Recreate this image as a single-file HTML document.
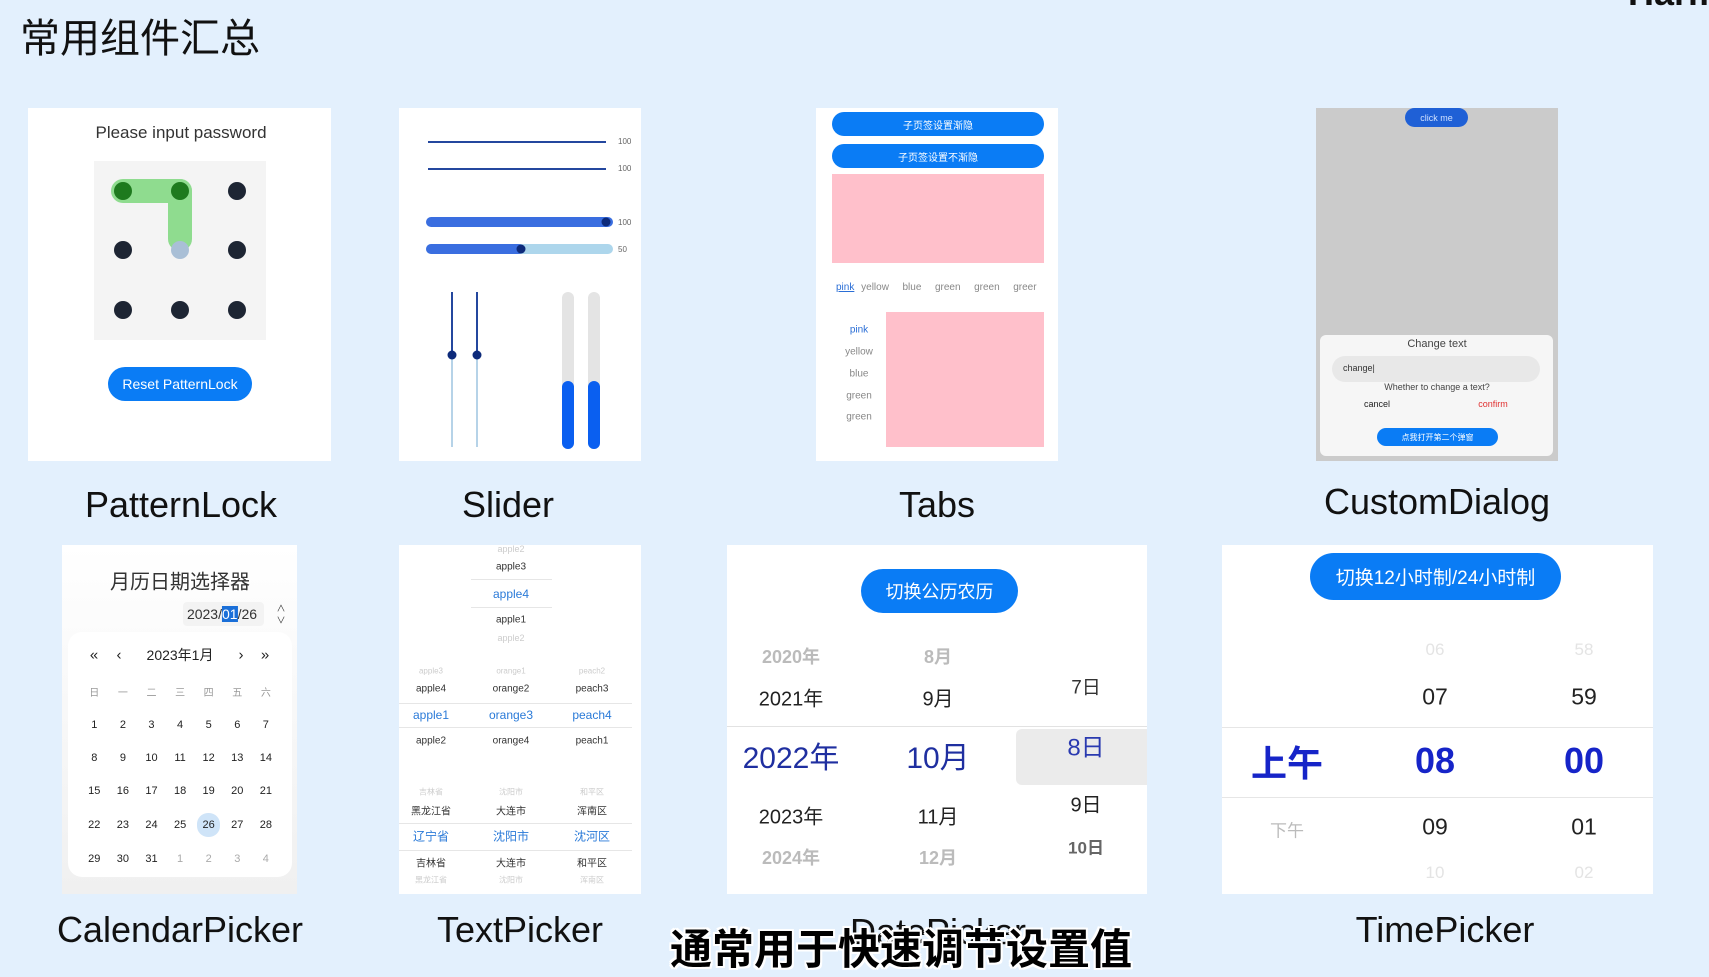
<!DOCTYPE html>
<html><head><meta charset="utf-8"><style>
*{margin:0;padding:0;box-sizing:border-box}
body{width:1709px;height:966px;background:#e3f0fd;position:relative;overflow:hidden;font-family:"Liberation Sans","Noto Sans CJK SC",sans-serif;color:#222}
.a{position:absolute}
.c{position:absolute;transform:translate(-50%,-50%);white-space:nowrap}
.p{position:absolute;background:#fff}
.lbl{position:absolute;transform:translate(-50%,-50%);font-size:36px;color:#111;white-space:nowrap}
.dot{position:absolute;width:18px;height:18px;border-radius:50%;background:#1d2533;transform:translate(-50%,-50%)}
.btn{position:absolute;background:#0a7cf5;color:#fff;border-radius:30px;display:flex;align-items:center;justify-content:center;white-space:nowrap}
.hl{position:absolute;height:1px;background:#e6e6e6}
.cal{position:absolute;left:80px;width:200px;display:grid;grid-template-columns:repeat(7,28.6px);font-size:11px;color:#222}
.cal span{display:flex;align-items:center;justify-content:center;height:24px}
</style></head><body>
<div class="a" style="left:20px;top:6px;font-size:40px;color:#111">常用组件汇总</div>
<div class="a" style="left:1628px;top:-28px;font-size:36px;font-weight:bold;color:#111">Harm</div>

<!-- PatternLock -->
<div class="p" style="left:28px;top:108px;width:303px;height:353px"></div>
<div class="c" style="left:181px;top:133px;font-size:17px;color:#333">Please input password</div>
<div class="a" style="left:94px;top:161px;width:172px;height:179px;background:#f4f4f4"></div>
<div class="a" style="left:111px;top:179px;width:81px;height:24px;background:#8fdc8f;border-radius:12px"></div>
<div class="a" style="left:168px;top:179px;width:24px;height:72px;background:#8fdc8f;border-radius:12px"></div>
<div class="dot" style="left:123px;top:191px;background:#1e7a1e"></div>
<div class="dot" style="left:180px;top:191px;background:#1e7a1e"></div>
<div class="dot" style="left:237px;top:191px"></div>
<div class="dot" style="left:123px;top:250px"></div>
<div class="dot" style="left:180px;top:250px;background:#a9bfd6"></div>
<div class="dot" style="left:237px;top:250px"></div>
<div class="dot" style="left:123px;top:310px"></div>
<div class="dot" style="left:180px;top:310px"></div>
<div class="dot" style="left:237px;top:310px"></div>
<div class="btn" style="left:108px;top:367px;width:144px;height:34px;font-size:14px">Reset PatternLock</div>
<div class="lbl" style="left:181px;top:505px">PatternLock</div>

<!-- Slider -->
<div class="p" style="left:399px;top:108px;width:242px;height:353px"></div>
<div class="a" style="left:428px;top:141px;width:178px;height:2px;background:#24479e"></div>
<div class="a" style="left:428px;top:168px;width:178px;height:2px;background:#24479e"></div>
<div class="a" style="left:618px;top:137px;font-size:8px;color:#666">100</div>
<div class="a" style="left:618px;top:164px;font-size:8px;color:#666">100</div>
<div class="a" style="left:426px;top:217px;width:187px;height:10px;border-radius:5px;background:#3a6ee0"></div>
<div class="a" style="left:426px;top:244px;width:187px;height:10px;border-radius:5px;background:#add6ec"></div>
<div class="a" style="left:426px;top:244px;width:98px;height:10px;border-radius:5px;background:#3a6ee0"></div>
<div class="dot" style="left:606px;top:222px;width:9px;height:9px;background:#0d2a7a"></div>
<div class="dot" style="left:521px;top:249px;width:9px;height:9px;background:#0d2a7a"></div>
<div class="a" style="left:618px;top:218px;font-size:8px;color:#666">100</div>
<div class="a" style="left:618px;top:245px;font-size:8px;color:#666">50</div>
<div class="a" style="left:451px;top:292px;width:2px;height:63px;background:#24479e"></div>
<div class="a" style="left:451px;top:355px;width:2px;height:92px;background:#b6d3e8"></div>
<div class="a" style="left:476px;top:292px;width:2px;height:63px;background:#24479e"></div>
<div class="a" style="left:476px;top:355px;width:2px;height:92px;background:#b6d3e8"></div>
<div class="dot" style="left:452px;top:355px;width:9px;height:9px;background:#0d2a7a"></div>
<div class="dot" style="left:477px;top:355px;width:9px;height:9px;background:#0d2a7a"></div>
<div class="a" style="left:562px;top:292px;width:12px;height:157px;border-radius:6px;background:#e4e4e4"></div>
<div class="a" style="left:588px;top:292px;width:12px;height:157px;border-radius:6px;background:#e4e4e4"></div>
<div class="a" style="left:562px;top:381px;width:12px;height:68px;border-radius:6px;background:#0a5ff0"></div>
<div class="a" style="left:588px;top:381px;width:12px;height:68px;border-radius:6px;background:#0a5ff0"></div>
<div class="lbl" style="left:508px;top:505px">Slider</div>

<!-- Tabs -->
<div class="p" style="left:816px;top:108px;width:242px;height:353px"></div>
<div class="btn" style="left:832px;top:112px;width:212px;height:24px;font-size:10px">子页签设置渐隐</div>
<div class="btn" style="left:832px;top:144px;width:212px;height:24px;font-size:10px">子页签设置不渐隐</div>
<div class="a" style="left:832px;top:174px;width:212px;height:89px;background:#ffc0cb"></div>
<div class="a" style="left:836px;top:282px;font-size:10px;color:#888;word-spacing:4px;white-space:nowrap;width:208px;overflow:hidden"><span style="color:#2a6ed6;text-decoration:underline">pink</span> yellow &nbsp;blue &nbsp;green &nbsp;green &nbsp;greer</div>
<div class="c" style="left:859px;top:330px;font-size:10px;color:#2a6ed6">pink</div>
<div class="c" style="left:859px;top:352px;font-size:10px;color:#888">yellow</div>
<div class="c" style="left:859px;top:374px;font-size:10px;color:#888">blue</div>
<div class="c" style="left:859px;top:396px;font-size:10px;color:#888">green</div>
<div class="c" style="left:859px;top:417px;font-size:10px;color:#888">green</div>
<div class="a" style="left:886px;top:312px;width:158px;height:135px;background:#ffc0cb"></div>
<div class="lbl" style="left:937px;top:505px">Tabs</div>

<!-- CustomDialog -->
<div class="a" style="left:1316px;top:108px;width:242px;height:353px;background:#cbcbcb"></div>
<div class="btn" style="left:1405px;top:108px;width:63px;height:19px;font-size:9px;background:#1f60d6;color:#cfe0ff">click me</div>
<div class="a" style="left:1320px;top:335px;width:233px;height:121px;background:#f6f6f6;border-radius:6px"></div>
<div class="c" style="left:1437px;top:344px;font-size:11px;color:#444">Change text</div>
<div class="a" style="left:1332px;top:356px;width:208px;height:26px;background:#e8e8e8;border-radius:13px"></div>
<div class="a" style="left:1343px;top:363px;font-size:9px;color:#333">change|</div>
<div class="c" style="left:1437px;top:387px;font-size:9px;color:#444">Whether to change a text?</div>
<div class="c" style="left:1377px;top:404px;font-size:9px;color:#222">cancel</div>
<div class="c" style="left:1493px;top:404px;font-size:9px;color:#e03030">confirm</div>
<div class="btn" style="left:1377px;top:428px;width:121px;height:18px;font-size:8px">点我打开第二个弹窗</div>
<div class="lbl" style="left:1437px;top:502px">CustomDialog</div>

<!-- CalendarPicker -->
<div class="a" style="left:62px;top:545px;width:235px;height:349px;background:linear-gradient(#fff,#f0f0f0)"></div>
<div class="c" style="left:180px;top:580px;font-size:20px;color:#333">月历日期选择器</div>
<div class="a" style="left:183px;top:602px;width:81px;height:24px;background:#f3f3f3;border-radius:4px"></div>
<div class="c" style="left:222px;top:614px;font-size:14px;color:#333">2023/<span style="background:#1a6fd8;color:#fff">01</span>/26</div>
<div class="c" style="left:281px;top:608px;font-size:9px;color:#333">∧</div>
<div class="c" style="left:281px;top:620px;font-size:9px;color:#333">∨</div>
<div class="a" style="left:68px;top:632px;width:224px;height:245px;background:#fff;border-radius:14px"></div>
<div class="c" style="left:94px;top:655px;font-size:15px">«</div>
<div class="c" style="left:119px;top:655px;font-size:15px">‹</div>
<div class="c" style="left:180px;top:655px;font-size:14px;color:#222">2023年1月</div>
<div class="c" style="left:241px;top:655px;font-size:15px">›</div>
<div class="c" style="left:265px;top:655px;font-size:15px">»</div>
<div class="cal" style="top:679px;font-size:10px;color:#999"><span>日</span><span>一</span><span>二</span><span>三</span><span>四</span><span>五</span><span>六</span></div>
<div class="cal" style="top:713px"><span>1</span><span>2</span><span>3</span><span>4</span><span>5</span><span>6</span><span>7</span></div>
<div class="cal" style="top:746px"><span>8</span><span>9</span><span>10</span><span>11</span><span>12</span><span>13</span><span>14</span></div>
<div class="cal" style="top:779px"><span>15</span><span>16</span><span>17</span><span>18</span><span>19</span><span>20</span><span>21</span></div>
<div class="cal" style="top:813px"><span>22</span><span>23</span><span>24</span><span>25</span><span style="background:#cfe4f8;border-radius:11px;margin:0 3px">26</span><span>27</span><span>28</span></div>
<div class="cal" style="top:847px"><span>29</span><span>30</span><span>31</span><span style="color:#aaa">1</span><span style="color:#aaa">2</span><span style="color:#aaa">3</span><span style="color:#aaa">4</span></div>
<div class="lbl" style="left:180px;top:930px">CalendarPicker</div>

<!-- TextPicker -->
<div class="p" style="left:399px;top:545px;width:242px;height:349px"></div>
<div class="c" style="left:511px;top:549px;font-size:9px;color:#ccc">apple2</div>
<div class="c" style="left:511px;top:567px;font-size:10px;color:#333">apple3</div>
<div class="hl" style="left:471px;top:579px;width:81px"></div>
<div class="c" style="left:511px;top:594px;font-size:12px;color:#2a7ad8">apple4</div>
<div class="hl" style="left:471px;top:607px;width:81px"></div>
<div class="c" style="left:511px;top:620px;font-size:10px;color:#333">apple1</div>
<div class="c" style="left:511px;top:638px;font-size:9px;color:#ccc">apple2</div>
<div class="c" style="left:431px;top:671px;font-size:8px;color:#ccc">apple3</div>
<div class="c" style="left:511px;top:671px;font-size:8px;color:#ccc">orange1</div>
<div class="c" style="left:592px;top:671px;font-size:8px;color:#ccc">peach2</div>
<div class="c" style="left:431px;top:689px;font-size:10px;color:#333">apple4</div>
<div class="c" style="left:511px;top:689px;font-size:10px;color:#333">orange2</div>
<div class="c" style="left:592px;top:689px;font-size:10px;color:#333">peach3</div>
<div class="hl" style="left:399px;top:727px;width:233px"></div>
<div class="c" style="left:431px;top:715px;font-size:12px;color:#2a7ad8">apple1</div>
<div class="c" style="left:511px;top:715px;font-size:12px;color:#2a7ad8">orange3</div>
<div class="c" style="left:592px;top:715px;font-size:12px;color:#2a7ad8">peach4</div>
<div class="hl" style="left:399px;top:703px;width:233px"></div>
<div class="c" style="left:431px;top:741px;font-size:10px;color:#333">apple2</div>
<div class="c" style="left:511px;top:741px;font-size:10px;color:#333">orange4</div>
<div class="c" style="left:592px;top:741px;font-size:10px;color:#333">peach1</div>
<div class="c" style="left:431px;top:792px;font-size:8px;color:#ccc">吉林省</div>
<div class="c" style="left:511px;top:792px;font-size:8px;color:#ccc">沈阳市</div>
<div class="c" style="left:592px;top:792px;font-size:8px;color:#ccc">和平区</div>
<div class="c" style="left:431px;top:810px;font-size:10px;color:#333">黑龙江省</div>
<div class="c" style="left:511px;top:810px;font-size:10px;color:#333">大连市</div>
<div class="c" style="left:592px;top:810px;font-size:10px;color:#333">浑南区</div>
<div class="hl" style="left:399px;top:823px;width:233px"></div>
<div class="c" style="left:431px;top:836px;font-size:12px;color:#2a7ad8">辽宁省</div>
<div class="c" style="left:511px;top:836px;font-size:12px;color:#2a7ad8">沈阳市</div>
<div class="c" style="left:592px;top:836px;font-size:12px;color:#2a7ad8">沈河区</div>
<div class="hl" style="left:399px;top:850px;width:233px"></div>
<div class="c" style="left:431px;top:862px;font-size:10px;color:#333">吉林省</div>
<div class="c" style="left:511px;top:862px;font-size:10px;color:#333">大连市</div>
<div class="c" style="left:592px;top:862px;font-size:10px;color:#333">和平区</div>
<div class="c" style="left:431px;top:880px;font-size:8px;color:#ccc">黑龙江省</div>
<div class="c" style="left:511px;top:880px;font-size:8px;color:#ccc">沈阳市</div>
<div class="c" style="left:592px;top:880px;font-size:8px;color:#ccc">浑南区</div>
<div class="lbl" style="left:520px;top:930px">TextPicker</div>

<!-- DatePicker -->
<div class="p" style="left:727px;top:545px;width:420px;height:349px"></div>
<div class="btn" style="left:861px;top:569px;width:157px;height:44px;font-size:18px">切换公历农历</div>
<div class="hl" style="left:727px;top:726px;width:420px;background:#e2e2e2"></div>
<div class="a" style="left:1016px;top:729px;width:131px;height:56px;background:#ebebeb;border-radius:6px 0 0 6px"></div>
<div class="c" style="left:791px;top:656px;font-size:18px;color:#bbb;font-weight:bold">2020年</div>
<div class="c" style="left:938px;top:656px;font-size:18px;color:#bbb;font-weight:bold">8月</div>
<div class="c" style="left:791px;top:697px;font-size:20px;color:#222">2021年</div>
<div class="c" style="left:938px;top:697px;font-size:20px;color:#222">9月</div>
<div class="c" style="left:791px;top:755px;font-size:30px;color:#1f2fa0">2022年</div>
<div class="c" style="left:938px;top:755px;font-size:30px;color:#1f2fa0">10月</div>
<div class="c" style="left:791px;top:815px;font-size:20px;color:#222">2023年</div>
<div class="c" style="left:938px;top:815px;font-size:20px;color:#222">11月</div>
<div class="c" style="left:791px;top:857px;font-size:18px;color:#bbb;font-weight:bold">2024年</div>
<div class="c" style="left:938px;top:857px;font-size:18px;color:#bbb;font-weight:bold">12月</div>
<div class="c" style="left:1086px;top:686px;font-size:19px;color:#333">7日</div>
<div class="c" style="left:1086px;top:745px;font-size:24px;color:#2a3ab0">8日</div>
<div class="c" style="left:1086px;top:803px;font-size:20px;color:#222">9日</div>
<div class="c" style="left:1086px;top:846px;font-size:17px;color:#666;font-weight:bold">10日</div>
<div class="lbl" style="left:938px;top:932px">DatePicker</div>

<!-- TimePicker -->
<div class="p" style="left:1222px;top:545px;width:431px;height:349px"></div>
<div class="btn" style="left:1310px;top:553px;width:251px;height:47px;font-size:19px">切换12小时制/24小时制</div>
<div class="hl" style="left:1222px;top:727px;width:431px"></div>
<div class="hl" style="left:1222px;top:797px;width:431px"></div>
<div class="c" style="left:1435px;top:650px;font-size:17px;color:#e4e4e4">06</div>
<div class="c" style="left:1584px;top:650px;font-size:17px;color:#e4e4e4">58</div>
<div class="c" style="left:1435px;top:697px;font-size:23px;color:#222">07</div>
<div class="c" style="left:1584px;top:697px;font-size:23px;color:#222">59</div>
<div class="c" style="left:1287px;top:761px;font-size:36px;color:#1624c8;font-weight:bold">上午</div>
<div class="c" style="left:1435px;top:761px;font-size:36px;color:#1624c8;font-weight:bold">08</div>
<div class="c" style="left:1584px;top:761px;font-size:36px;color:#1624c8;font-weight:bold">00</div>
<div class="c" style="left:1287px;top:829px;font-size:17px;color:#bbb">下午</div>
<div class="c" style="left:1435px;top:827px;font-size:23px;color:#222">09</div>
<div class="c" style="left:1584px;top:827px;font-size:23px;color:#222">01</div>
<div class="c" style="left:1435px;top:873px;font-size:17px;color:#e4e4e4">10</div>
<div class="c" style="left:1584px;top:873px;font-size:17px;color:#e4e4e4">02</div>
<div class="lbl" style="left:1445px;top:930px">TimePicker</div>

<!-- subtitle -->
<div class="a" style="left:670px;top:916px;font-size:42px;font-weight:bold;color:#000;white-space:nowrap;text-shadow:2px 0 #fff,-2px 0 #fff,0 2px #fff,0 -2px #fff,2px 2px #fff,-2px -2px #fff,2px -2px #fff,-2px 2px #fff">通常用于快速调节设置值</div>
</body></html>
